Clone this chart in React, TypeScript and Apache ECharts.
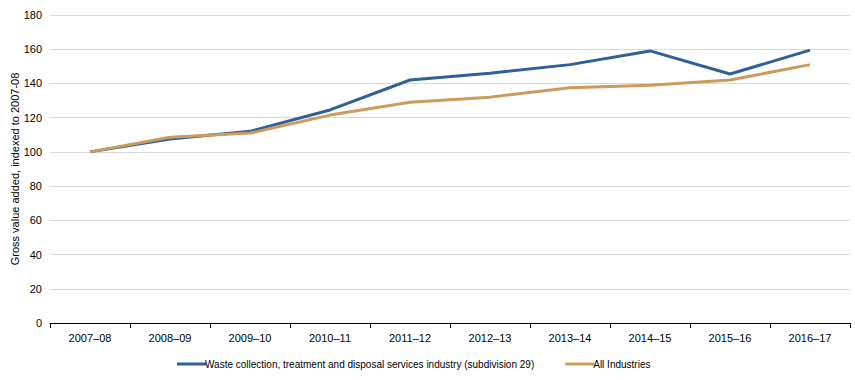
import React, { useEffect, useRef } from "react";
import * as echarts from "echarts";

const categories = ["2007–08", "2008–09", "2009–10", "2010–11", "2011–12", "2012–13", "2013–14", "2014–15", "2015–16", "2016–17"];
const wasteValues = [100, 107.5, 112, 124.5, 142, 146, 151, 159, 145.5, 159.5];
const allIndustriesValues = [100, 108.5, 111, 121.5, 129, 132, 137.5, 139, 142, 151];
const yTicks = { min: 0, max: 180, interval: 20 };

const FONT = "'Liberation Sans', Arial, sans-serif";

export default function App() {
  const ref = useRef<HTMLDivElement>(null);
  useEffect(() => {
    if (!ref.current) return;
    const chart = echarts.init(ref.current, null, { renderer: "svg" });
    chart.setOption({
      animation: false,
      textStyle: { fontFamily: FONT },
      grid: { left: 50, right: 5, top: 15, bottom: 57, containLabel: false, outerBoundsMode: "none" },
      legend: {
        bottom: 6,
        left: 172,
        itemWidth: 29,
        itemHeight: 3,
        itemGap: 31,
        textStyle: { fontFamily: FONT, fontSize: 10, color: "#000", padding: [0, 0, 0, -6] },
        data: [
          { name: "Waste collection, treatment and disposal services industry (subdivision 29)", icon: "rect", itemStyle: { color: "#2F6098" } },
          { name: "All Industries", icon: "rect", itemStyle: { color: "#CD9A5E" } },
        ],
      },
      xAxis: {
        type: "category",
        data: categories,
        boundaryGap: true,
        axisLine: { lineStyle: { color: "#000", width: 1 } },
        axisTick: { show: true, length: 5, lineStyle: { color: "#000" } },
        axisLabel: { color: "#000", fontSize: 11, fontFamily: FONT, margin: 9 },
      },
      yAxis: {
        type: "value",
        min: yTicks.min,
        max: yTicks.max,
        interval: yTicks.interval,
        name: "Gross value added, indexed to 2007-08",
        nameLocation: "middle",
        nameGap: 30,
        nameMoveOverlap: false,
        nameTextStyle: { color: "#000", fontSize: 11, fontFamily: FONT },
        axisLine: { show: false },
        axisTick: { show: false },
        axisLabel: { color: "#000", fontSize: 11, fontFamily: FONT, margin: 8 },
        splitLine: { lineStyle: { color: "#D9D9D9", width: 1 } },
      },
      series: [
        {
          name: "Waste collection, treatment and disposal services industry (subdivision 29)",
          type: "line",
          data: wasteValues,
          symbol: "none",
          lineStyle: { color: "#2F6098", width: 3 },
          itemStyle: { color: "#2F6098" },
          z: 2,
        },
        {
          name: "All Industries",
          type: "line",
          data: allIndustriesValues,
          symbol: "none",
          lineStyle: { color: "#CD9A5E", width: 3 },
          itemStyle: { color: "#CD9A5E" },
          z: 3,
        },
      ],
    });
    return () => chart.dispose();
  }, []);
  return <div ref={ref} style={{ width: 855, height: 380, position: "absolute", left: 0, top: 0 }} />;
}
